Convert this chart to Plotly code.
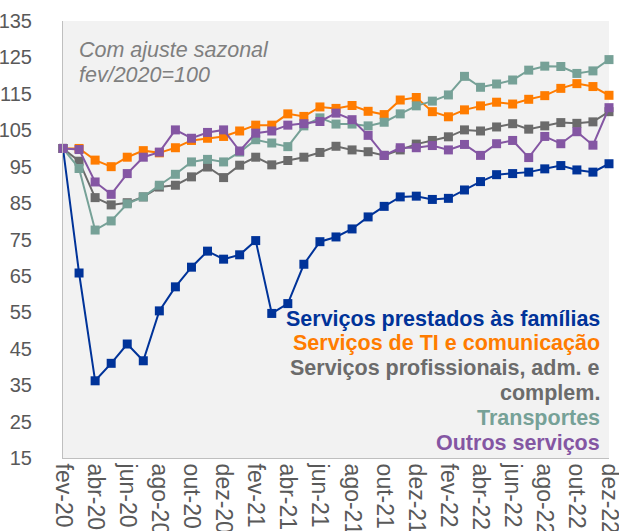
import plotly.graph_objects as go

months = ["fev-20","mar-20","abr-20","mai-20","jun-20","jul-20","ago-20","set-20","out-20","nov-20","dez-20",
          "jan-21","fev-21","mar-21","abr-21","mai-21","jun-21","jul-21","ago-21","set-21","out-21","nov-21","dez-21",
          "jan-22","fev-22","mar-22","abr-22","mai-22","jun-22","jul-22","ago-22","set-22","out-22","nov-22","dez-22"]

familias = [100, 65.8, 36.2, 41.0, 46.3, 41.7, 55.4, 62.0, 67.4, 71.8, 69.6,
            70.8, 74.7, 54.7, 57.4, 68.2, 74.4, 75.7, 77.9, 81.2, 84.1, 86.7, 86.9,
            86.0, 86.3, 88.6, 90.9, 92.8, 93.1, 93.5, 94.4, 95.3, 94.1, 93.5, 95.8]

ti_com = [100, 100, 96.8, 95.0, 97.6, 99.4, 98.8, 100.2, 102.2, 102.8, 103.3,
          104.8, 106.4, 106.4, 109.5, 108.8, 111.4, 111.0, 111.8, 110.2, 109.3, 113.3, 114.0,
          110.1, 108.7, 110.6, 111.7, 112.7, 112.2, 113.5, 114.5, 116.5, 117.8, 117.0, 114.6]

profissionais = [100, 96.5, 86.5, 84.5, 85.1, 86.7, 89.4, 89.9, 92.2, 94.9, 92.0,
                 95.4, 97.6, 95.5, 96.7, 97.6, 98.9, 100.6, 99.6, 99.1, 98.1, 99.6, 101.2,
                 102.2, 103.2, 105.1, 104.8, 105.9, 106.8, 105.3, 106.2, 107.1, 106.9, 107.3, 110.1]

transportes = [100, 94.5, 77.6, 80.1, 84.8, 86.7, 89.9, 92.9, 96.3, 97.0, 96.3,
               99.0, 102.4, 101.5, 100.5, 106.2, 108.4, 106.7, 106.7, 106.2, 107.2, 109.5, 111.7,
               113.0, 114.7, 119.8, 116.8, 117.7, 118.8, 121.5, 122.6, 122.5, 120.6, 121.3, 124.4]

outros = [100, 99.7, 90.8, 87.4, 93.1, 97.6, 99.0, 105.1, 102.8, 104.4, 105.1,
          99.3, 104.2, 104.8, 106.4, 106.8, 107.4, 109.7, 107.9, 103.6, 98.1, 100.2, 100.2,
          100.8, 99.6, 101.1, 98.1, 101.3, 102.2, 97.5, 103.3, 101.3, 104.6, 100.9, 111.2]

series_names = ["Serviços prestados às famílias", "Serviços de TI e comunicação",
                "Serviços profissionais, adm. e complem.", "Transportes", "Outros serviços"]
series_values = [familias, ti_com, profissionais, transportes, outros]
colors = ["#003399", "#FF7C00", "#6B6B6B", "#76A197", "#8456A3"]

y_ticks = list(range(15, 136, 10))
x_idx = list(range(len(months)))

L, R, T, B = 63, 10, 21, 73
W, H = 619, 531
pw, ph = W - L - R, H - T - B

fig = go.Figure()
for name, vals, col in zip(series_names, series_values, colors):
    fig.add_trace(go.Scatter(
        x=x_idx, y=vals, mode="lines+markers", name=name,
        line=dict(color=col, width=2),
        marker=dict(symbol="square", size=9, color=col),
        cliponaxis=False, showlegend=False, hoverinfo="skip",
    ))

fig.update_layout(
    width=W, height=H,
    margin=dict(l=L, r=R, t=T, b=B, autoexpand=False),
    paper_bgcolor="white", plot_bgcolor="#F2F2F2",
    font=dict(family="Liberation Sans, Arial, sans-serif", color="#595959", size=20),
)
fig.update_xaxes(
    range=[0, len(months) - 1], tickmode="array",
    tickvals=x_idx[::2], ticktext=months[::2], tickangle=90,
    showgrid=False, zeroline=False, showline=True, linecolor="#BFBFBF", linewidth=1,
    ticks="", automargin=False, ticklabeloverflow="allow",
    tickfont=dict(size=23, color="#595959"),
)
fig.update_yaxes(
    range=[15, 135], tickmode="array", tickvals=y_ticks,
    showgrid=False, zeroline=False, showline=True, linecolor="#BFBFBF", linewidth=1,
    ticks="", ticklabelstandoff=26, automargin=False, ticklabeloverflow="allow",
    tickfont=dict(size=20, color="#595959"),
)

for txt, ypix in [("Com ajuste sazonal", 50), ("fev/2020=100", 75)]:
    fig.add_annotation(
        xref="paper", yref="paper", x=(77 - L) / pw, y=(H - B - ypix) / ph,
        xanchor="left", yanchor="middle", text="<i>" + txt + "</i>", showarrow=False,
        font=dict(size=21.5, color="#7F7F7F"),
    )

legend_lines = [
    ("Serviços prestados às famílias", colors[0], 319),
    ("Serviços de TI e comunicação", colors[1], 343),
    ("Serviços profissionais, adm. e", colors[2], 368),
    ("complem.", colors[2], 393),
    ("Transportes", colors[3], 418),
    ("Outros serviços", colors[4], 443),
]
for txt, col, ypix in legend_lines:
    fig.add_annotation(
        xref="paper", yref="paper", x=(602 - L) / pw, y=(H - B - ypix) / ph,
        xanchor="right", yanchor="middle", text="<b>" + txt + "</b>", showarrow=False,
        font=dict(size=21.5, color=col),
    )

fig.write_html("out.html", config={"displayModeBar": False},
               post_script="document.body.style.margin='0';")
